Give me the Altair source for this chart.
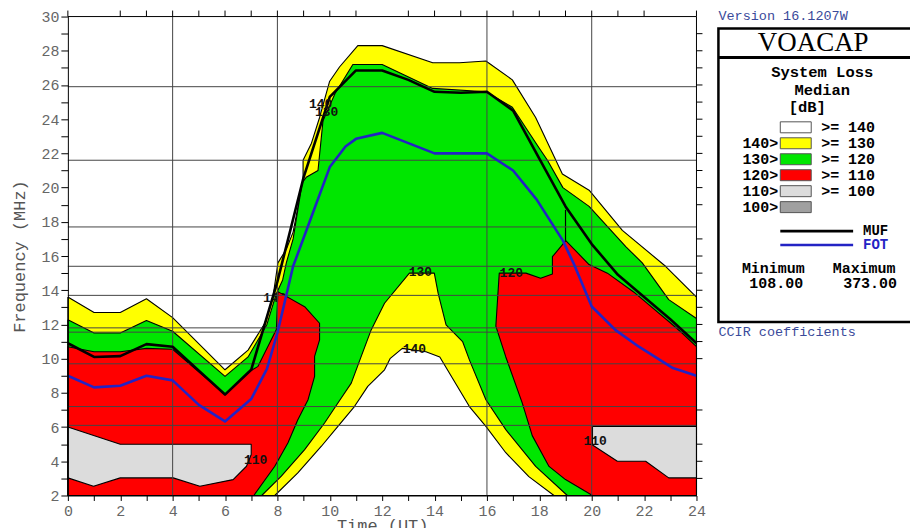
import altair as alt
import pandas as pd

# ---------------- data ----------------
HOURS = list(range(25))
MUF_F = [10.9, 10.1, 10.15, 10.85, 10.7, 9.3, 7.9, 9.35, 14.5, 20.6, 25.3, 26.85, 26.85,
         26.3, 25.6, 25.55, 25.6, 24.5, 21.7, 18.9, 16.7, 14.9, 13.6, 12.3, 10.9]

FOT_T = [0, 1, 2, 3, 4, 5, 6, 7, 7.6, 8.0, 8.6, 9.3, 10.0, 10.6, 11.0, 12.0, 14.0, 16.0,
         17.0, 17.9, 18.9, 19.3, 20.0, 20.9, 21.8, 23.1, 24]
FOT_F = [9.0, 8.32, 8.42, 9.0, 8.73, 7.3, 6.33, 7.64, 9.4, 11.5, 15.4, 18.3, 21.2, 22.4,
         22.85, 23.2, 22.0, 22.0, 21.0, 19.3, 16.9, 15.6, 13.05, 11.68, 10.7, 9.45, 9.0]

# 140 dB contour (upper edge of the yellow zone)
TOP140_T = [0, 1, 2, 3, 4, 6, 6.88, 7.52, 7.83, 8.02, 8.34, 8.6, 8.98, 8.98, 9.3, 9.61, 9.99,
            10.37, 11.07, 12.0, 13.93, 14.95, 15.96, 16.97, 17.86, 18.88, 19.9, 21.17, 22.82, 24]
TOP140_F = [13.6, 12.7, 12.7, 13.5, 12.4, 9.35, 10.5, 12.07, 13.6, 15.6, 16.4, 17.4, 20.44, 21.6,
            22.6, 24.1, 26.2, 27.05, 28.3, 28.3, 27.3, 27.3, 27.4, 26.3, 24.1, 20.8, 19.85, 17.5, 15.4, 13.6]

# 130 dB contour (upper edge of the green zone)
TOP130_T = [0, 1, 2, 3, 4, 6, 6.88, 7.6, 7.95, 8.2, 8.34, 8.6, 8.95, 9.1, 9.55, 9.74, 10.2, 10.88,
            12.0, 13.93, 15.96, 16.97, 18.0, 18.31, 18.9, 19.9, 21.3, 21.93, 22.94, 24]
TOP130_F = [12.27, 11.5, 11.5, 12.23, 11.6, 8.96, 10.1, 12.0, 13.76, 14.6, 15.6, 17.0, 20.3, 20.6,
            21.0, 23.9, 25.5, 27.2, 27.2, 25.8, 25.6, 24.7, 22.3, 21.6, 20.0, 18.9, 16.55, 15.6, 13.45, 12.35]

# 120 dB zones (red)
RED_L_T = [0, 0, 1, 2, 3, 4, 6, 6.88, 7.26, 7.96, 8.02, 9.04, 9.61, 9.61, 9.42, 9.42, 9.17, 8.78,
           8.4, 7.9, 7.1]
RED_L_F = [2, 10.7, 10.4, 10.4, 10.6, 10.55, 7.9, 9.2, 9.55, 11.7, 13.92, 13.04, 12.07, 11.1,
           10.13, 8.96, 7.6, 6.43, 5.07, 3.71, 2]
RED_R_T = [20.03, 19.0, 18.37, 17.73, 17.35, 16.72, 16.34, 16.47, 17.49, 18.05, 18.5, 18.5, 19.01,
           19.9, 20.6, 21.6, 23.0, 23.45, 24, 24]
RED_R_F = [2, 2.93, 3.7, 5.5, 7.4, 10.1, 11.9, 15.0, 15.0, 14.7, 14.95, 15.96, 16.9, 15.5, 15.0,
           13.9, 12.1, 11.5, 10.7, 2]
SPIKE_T = [19.0, 19.0]
SPIKE_F = [16.9, 18.7]

# 110 dB zones (light grey)
GRAY_L_T = [0, 2, 7.0, 7.0, 6.82, 6.31, 5.04, 4.02, 2, 0.98, 0]
GRAY_L_F = [6.0, 5.0, 5.0, 4.4, 3.71, 2.93, 2.54, 3.03, 3.03, 2.54, 3.03]
GRAY_R_T = [20.03, 24, 24, 22.94, 22.06, 20.98, 20.03]
GRAY_R_F = [6.04, 6.04, 3.03, 3.03, 4.0, 4.0, 4.95]

# daytime absorption hole: 130 dB ring (yellow) and 140 dB core (white)
RING130_T = [7.4, 8.15, 9.04, 9.8, 10.31, 10.82, 11.2, 11.58, 12.09, 13.04, 13.99, 14.14, 14.44,
             15.07, 15.33, 15.96, 16.72, 17.86, 19.07]
RING130_F = [2, 3.13, 4.68, 6.24, 7.41, 8.57, 10.13, 11.68, 13.24, 15.0, 15.0, 13.8, 11.98, 11.0,
             9.93, 7.6, 5.85, 3.7, 2]
HOLE140_T = [7.9, 8.78, 9.68, 10.31, 10.94, 11.45, 12.09, 12.3, 12.77, 13.67, 14.2, 15.33, 15.96,
             16.72, 17.6, 18.56]
HOLE140_F = [2, 3.32, 4.88, 6.04, 7.2, 8.38, 9.35, 10.0, 10.6, 10.4, 10.1, 7.2, 6.04, 4.5, 3.1, 2]

GRID_F = [6.1, 7.2, 9.7, 11.55, 11.8, 13.7, 15.4, 17.7, 21.6, 25.9]
GRID_T = [4, 8, 16, 20]
TOP_TICK_T = [0, 2, 3, 4, 5, 6, 7, 8, 9, 10, 11, 13, 14, 15, 16, 17, 18, 19, 20, 21, 22, 24]
RIGHT_TICK_F = [3, 4, 5, 7, 10, 11, 12, 13, 14, 15, 16, 17, 19, 20, 21, 22, 23, 24, 25, 26, 27, 28, 29]

LABEL_S = ["140", "130", "130", "120", "140", "110", "110"]
LABEL_T = [9.65, 9.88, 13.46, 16.93, 13.23, 7.17, 20.13]
LABEL_F = [24.87, 24.4, 15.07, 15.01, 10.58, 4.1, 5.2]
HIDDEN_S = ["140"]
HIDDEN_T = [7.9]
HIDDEN_F = [13.55]

LEG_LEFT = ["", "140>", "130>", "120>", "110>", "100>"]
LEG_RIGHT = [">= 140", ">= 130", ">= 120", ">= 110", ">= 100", ""]
LEG_COLORS = ["#ffffff", "#ffff00", "#00e600", "#ff0000", "#dcdcdc", "#a0a0a0"]

YELLOW, GREEN, RED, LGRAY = "#ffff00", "#00e600", "#ff0000", "#dcdcdc"
BLUE = "#2323c4"
MONO = "Liberation Mono"
SERIF = "Liberation Serif"

W, H = 630, 480
XS = alt.Scale(domain=[0, 24], nice=False, zero=False)
YS = alt.Scale(domain=[2, 30], nice=False, zero=False)
ONE = pd.DataFrame({"k": [0]})

X_AXIS = alt.Axis(values=HOURS, labelExpr="datum.value % 2 === 0 ? datum.label : ''",
                  tickSize=5, tickColor="black", domainColor="black", labelFont=MONO,
                  labelFontSize=15, labelColor="#666666", labelPadding=3, labelFlush=False,
                  labelOverlap=False, grid=False, title="Time (UT)", titleFont=MONO,
                  titleFontSize=17, titleFontWeight="normal", titleColor="#555555",
                  titleY=22, titleBaseline="top", zindex=1)
Y_AXIS = alt.Axis(values=list(range(2, 31)),
                  labelExpr="datum.value % 2 === 0 ? datum.label : ''",
                  tickSize=7, tickColor="black", domainColor="black", labelFont=MONO,
                  labelFontSize=15, labelColor="#666666", labelPadding=2, labelFlush=False,
                  labelOverlap=False, grid=False, title="Frequency (MHz)", titleFont=MONO,
                  titleFontSize=17, titleFontWeight="normal", titleColor="#555555",
                  titleX=-48, titleY=H / 2, titleBaseline="middle", titleAngle=-90, zindex=1)


def XE():
    return alt.X("t:Q", scale=XS, axis=X_AXIS)


def YE():
    return alt.Y("f:Q", scale=YS, axis=Y_AXIS)


def frame(ts, fs, close=True):
    ts, fs = list(ts), list(fs)
    if close:
        ts, fs = ts + [ts[0]], fs + [fs[0]]
    return pd.DataFrame({"t": ts, "f": fs, "i": list(range(len(ts)))})


def poly(df, color, sw=1.1):
    return alt.Chart(df).mark_line(fill=color, stroke="black", strokeWidth=sw,
                                   strokeJoin="round").encode(
        x=XE(), y=YE(), order=alt.Order("i:Q"))


def line(df, color, sw):
    return alt.Chart(df).mark_line(color=color, strokeWidth=sw, strokeJoin="round").encode(
        x=XE(), y=YE(), order=alt.Order("i:Q"))


def txt(x, y, s, size=15, color="black", weight="bold", align="center", font=MONO):
    return alt.Chart(ONE).mark_text(text=s, fontSize=size, color=color, fontWeight=weight,
                                    align=align, baseline="middle", font=font).encode(
        x=alt.value(x), y=alt.value(y))


def rect(x, x2, y, y2, fill, stroke="black", sw=1.0):
    return alt.Chart(ONE).mark_rect(fill=fill, stroke=stroke, strokeWidth=sw).encode(
        x=alt.value(x), x2=alt.value(x2), y=alt.value(y), y2=alt.value(y2))


def hrule(x, x2, y, color="black", sw=1.0):
    return alt.Chart(ONE).mark_rule(color=color, strokeWidth=sw).encode(
        x=alt.value(x), x2=alt.value(x2), y=alt.value(y))


# ---------------- zones ----------------
yellow_df = frame(TOP140_T + [24, 0], TOP140_F + [2, 2])
green_df = frame(TOP130_T + [24, 0], TOP130_F + [2, 2])

layers = [poly(yellow_df, YELLOW), poly(green_df, GREEN)]

layers.append(alt.Chart(pd.DataFrame({"t": HIDDEN_T, "f": HIDDEN_F, "s": HIDDEN_S})).mark_text(
    font=MONO, fontSize=13, fontWeight="bold", color="#111111").encode(
    x=XE(), y=YE(), text="s:N"))

layers += [
    poly(frame(RED_L_T, RED_L_F), RED),
    poly(frame(RED_R_T, RED_R_F), RED),
    poly(frame(GRAY_L_T, GRAY_L_F), LGRAY),
    poly(frame(GRAY_R_T, GRAY_R_F), LGRAY),
    poly(frame(RING130_T, RING130_F), YELLOW),
    poly(frame(HOLE140_T, HOLE140_F), "#ffffff"),
    line(frame(SPIKE_T, SPIKE_F, close=False), "black", 1.2),
]

# grid lines
layers.append(alt.Chart(pd.DataFrame({"f": GRID_F})).mark_rule(color="#444444", strokeWidth=1).encode(
    y=YE()))
layers.append(alt.Chart(pd.DataFrame({"t": GRID_T})).mark_rule(color="#444444", strokeWidth=1).encode(
    x=XE()))

# MUF & FOT
layers.append(line(frame(HOURS, MUF_F, close=False), "black", 2.6))
layers.append(line(frame(FOT_T, FOT_F, close=False), BLUE, 2.6))

# contour labels
layers.append(alt.Chart(pd.DataFrame({"t": LABEL_T, "f": LABEL_F, "s": LABEL_S})).mark_text(
    font=MONO, fontSize=13, fontWeight="bold", color="#111111").encode(
    x=XE(), y=YE(), text="s:N"))

# frame: top and right edges with ticks
layers.append(hrule(0, W, 0))
layers.append(alt.Chart(ONE).mark_rule(color="black").encode(
    x=alt.value(W), y=alt.value(0), y2=alt.value(H)))
layers.append(alt.Chart(pd.DataFrame({"t": TOP_TICK_T})).mark_rule(color="black").encode(
    x=XE(), y=alt.value(-6), y2=alt.value(0)))
layers.append(alt.Chart(pd.DataFrame({"f": RIGHT_TICK_F})).mark_rule(color="black").encode(
    y=YE(), x=alt.value(W), x2=alt.value(W + 6)))

# ---------------- legend panel (pixel layout relative to plot origin) ----------------
LX = 652
layers.append(txt(LX, -1, "Version 16.1207W", size=13.5, color="#3a4a9a", weight="normal", align="left"))
layers.append(rect(LX, LX + 230, 12, 306, "#ffffff", sw=2.5))
layers.append(hrule(LX, LX + 230, 41, sw=3))
layers.append(txt(747, 27, "VOACAP", size=27, weight="normal", font=SERIF))
layers.append(txt(756, 56, "System Loss", size=15.5))
layers.append(txt(756, 74, "Median", size=15.5))
layers.append(txt(741, 91, "[dB]", size=15.5))
for k in range(6):
    yy = 111 + 16 * k
    layers.append(rect(714, 745, yy - 5.5, yy + 5.5, LEG_COLORS[k], stroke="#555555", sw=1))
    if LEG_LEFT[k]:
        layers.append(txt(712, yy, LEG_LEFT[k], align="right"))
    if LEG_RIGHT[k]:
        layers.append(txt(755, yy, LEG_RIGHT[k], align="left"))
layers.append(hrule(714, 787, 215, sw=2.6))
layers.append(txt(797, 215, "MUF", align="left", size=14))
layers.append(hrule(714, 787, 229, color=BLUE, sw=2.6))
layers.append(txt(797, 229, "FOT", align="left", color=BLUE, size=14))
layers.append(txt(707, 252, "Minimum"))
layers.append(txt(798, 252, "Maximum"))
layers.append(txt(710, 267, "108.00"))
layers.append(txt(804, 267, "373.00"))
layers.append(txt(LX, 316, "CCIR coefficients", size=13.5, color="#3a4a9a", weight="normal", align="left"))

chart = alt.layer(*layers).properties(
    width=W, height=H,
    autosize=alt.AutoSizeParams(type="none"),
    padding={"left": 60, "top": 8, "right": 214, "bottom": 32},
).configure_view(strokeWidth=0)

chart.save("out.html", embed_options={"renderer": "svg", "actions": False})
